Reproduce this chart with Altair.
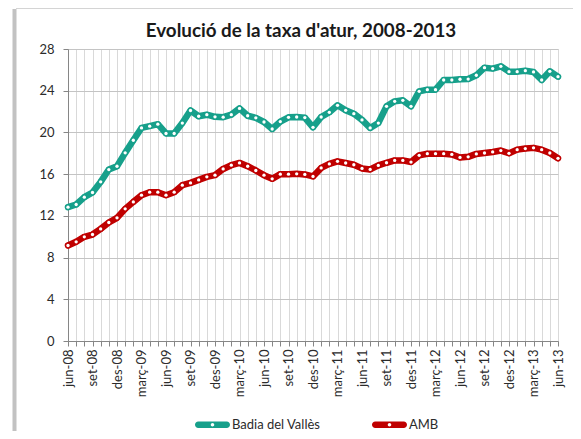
import json
import altair as alt
import pandas as pd

# ---- data -----------------------------------------------------------------
month_abbr = ["gen", "febr", "març", "abr", "maig", "jun",
              "jul", "ag", "set", "oct", "nov", "des"]
# monthly categories jun-08 .. jun-13
months = [f"{month_abbr[(5 + k) % 12]}-{8 + (5 + k) // 12:02d}" for k in range(61)]

tick_labels = ["jun-08", "set-08", "des-08", "març-09", "jun-09", "set-09", "des-09",
               "març-10", "jun-10", "set-10", "des-10", "març-11", "jun-11", "set-11",
               "des-11", "març-12", "jun-12", "set-12", "des-12", "març-13", "jun-13"]

badia = [12.83, 13.09, 13.79, 14.24, 15.26, 16.44, 16.76, 18.04, 19.25, 20.43,
         20.60, 20.79, 19.90, 19.90, 20.90, 22.10, 21.55, 21.70, 21.50, 21.46,
         21.70, 22.30, 21.60, 21.40, 21.00, 20.33, 21.04, 21.45, 21.48, 21.42,
         20.49, 21.48, 21.93, 22.60, 22.12, 21.80, 21.20, 20.43, 20.90, 22.50,
         22.98, 23.08, 22.50, 23.94, 24.10, 24.10, 25.03, 25.03, 25.10, 25.12,
         25.48, 26.21, 26.12, 26.34, 25.83, 25.83, 25.92, 25.80, 25.03, 25.86,
         25.35]

amb = [9.16, 9.51, 9.99, 10.21, 10.75, 11.36, 11.81, 12.67, 13.34, 13.98,
       14.27, 14.27, 13.98, 14.27, 14.94, 15.16, 15.45, 15.74, 15.90, 16.50,
       16.86, 17.08, 16.76, 16.35, 15.90, 15.55, 16.00, 16.00, 16.03, 15.97,
       15.78, 16.60, 16.98, 17.23, 17.07, 16.90, 16.55, 16.45, 16.84, 17.09,
       17.32, 17.32, 17.16, 17.80, 17.96, 17.96, 17.96, 17.89, 17.60, 17.66,
       17.94, 18.03, 18.13, 18.26, 18.00, 18.35, 18.45, 18.52, 18.35, 18.03,
       17.52]

series_names = ["Badia del Vallès", "AMB"]
series_colors = ["#17a08b", "#c00000"]
y_ticks = [0, 4, 8, 12, 16, 20, 24, 28]

rows = []
for name, vals in zip(series_names, [badia, amb]):
    for m, v in zip(months, vals):
        rows.append({"month": m, "series": name, "value": v})
df = pd.DataFrame(rows)

FONT = "Lato"
label_expr = (f"indexof({json.dumps(tick_labels, ensure_ascii=False)}, datum.label) >= 0 "
              f"? datum.label : ''")

# legend symbol: rounded line with a white dot (hole) in the middle
legend_path = ("M -0.814 -0.186 L 0.814 -0.186 A 0.186 0.186 0 0 1 0.814 0.186 "
               "L -0.814 0.186 A 0.186 0.186 0 0 1 -0.814 -0.186 Z "
               "M 0.1 0 A 0.1 0.1 0 0 0 -0.1 0 A 0.1 0.1 0 0 0 0.1 0 Z")

x_enc = alt.X("month:O", sort=months,
              scale=alt.Scale(type="point", padding=0, domain=months),
              axis=alt.Axis(title=None, labelAngle=270, labelExpr=label_expr,
                            labelOverlap=False, labelBound=False, grid=True,
                            gridColor="#d9d9d9", gridWidth=1,
                            domainColor="#868686", tickColor="#868686",
                            tickSize=5, labelPadding=3, labelFont=FONT,
                            labelFontSize=13, labelColor="#2b2b2b"))
y_enc = alt.Y("value:Q", scale=alt.Scale(domain=[0, 28], nice=False),
              axis=alt.Axis(title=None, values=y_ticks, grid=True,
                            gridColor="#c4c4c4", domainColor="#868686",
                            tickColor="#868686", tickSize=5, labelPadding=9,
                            labelFont=FONT, labelFontSize=13, labelColor="#2b2b2b"))

base = alt.Chart(df).encode(x=x_enc, y=y_enc)

line_layers = []
for name, col in zip(series_names, series_colors):
    line_layers.append(
        base.transform_filter(alt.datum.series == name)
        .mark_line(strokeWidth=6.5, strokeJoin="round", strokeCap="round", color=col)
    )

color_dots = base.mark_point(filled=True, size=34, opacity=1).encode(
    color=alt.Color("series:N",
                    scale=alt.Scale(domain=series_names, range=series_colors),
                    legend=alt.Legend(title=None, orient="none", legendX=127, legendY=358,
                                      direction="horizontal", symbolType=legend_path,
                                      symbolSize=1225, symbolStrokeWidth=0,
                                      symbolOpacity=1, labelFont=FONT, labelFontSize=13,
                                      labelColor="#2b2b2b", labelOffset=2,
                                      columnPadding=51, padding=0)))

white_dots = base.mark_point(filled=True, size=11, opacity=1, color="white")

# chart-area frame (left shadow and top edge)
frame_df = pd.DataFrame({"k": [0]})
frame_left = alt.Chart(frame_df).mark_rule(color="#c2c2c2", strokeWidth=4).encode(
    x=alt.value(-53.5), y=alt.value(-40), y2=alt.value(400))
frame_top = alt.Chart(frame_df).mark_rule(color="#d4d4d4", strokeWidth=1).encode(
    x=alt.value(-52), x2=alt.value(520), y=alt.value(-40.5))

chart = alt.layer(frame_left, frame_top, *line_layers, color_dots, white_dots).properties(
    width=490, height=292,
    title=alt.Title("Evolució de la taxa d'atur, 2008-2013", font=FONT, fontSize=18.8,
                    fontWeight="bold", color="#1a1a1a", anchor="middle", offset=6,
                    dy=40, dx=-12),
    autosize=alt.AutoSizeParams(type="none"),
    padding={"left": 60, "top": 41, "right": 15, "bottom": 90},
).configure_view(stroke=None).configure(background="white")

chart.save("out.html", embed_options={"renderer": "svg", "actions": False})
